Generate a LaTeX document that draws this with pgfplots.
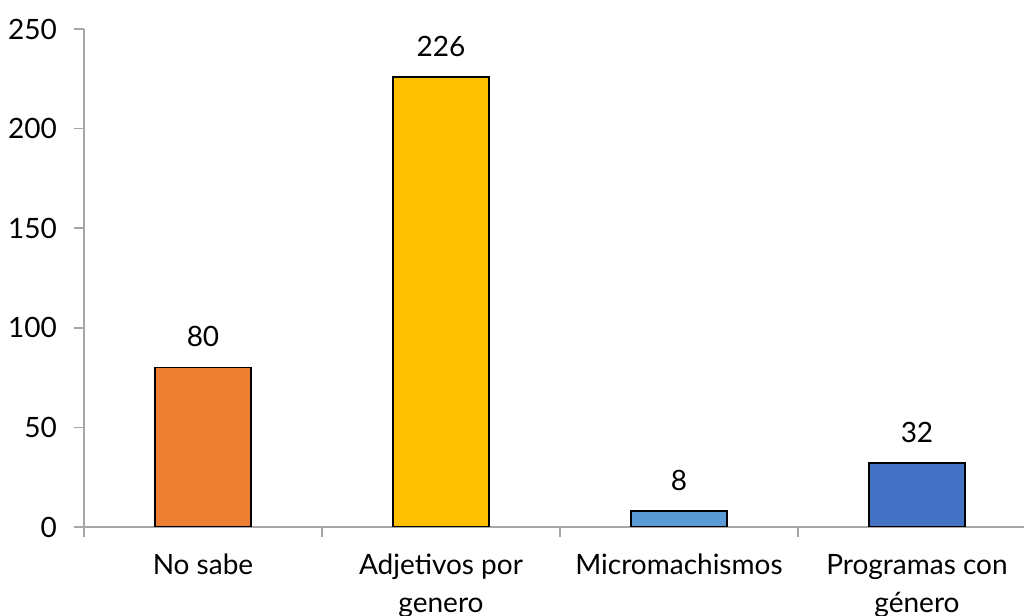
\documentclass[border=0pt]{standalone}
\usepackage{fontspec}
\setmainfont{Lato}
\usepackage{pgfplots}
\pgfplotsset{compat=1.18}
\definecolor{cOrange}{HTML}{ED7D31}
\definecolor{cGold}{HTML}{FFC000}
\definecolor{cLight}{HTML}{5B9BD5}
\definecolor{cBlue}{HTML}{4472C4}
\definecolor{axgray}{HTML}{A6A6A6}

\begin{document}
\begin{tikzpicture}
    \begin{axis}[
        scale only axis,
        width=476pt,
        height=249pt,
        ybar,
        bar width=48pt,
        xmin=-0.5, xmax=3.5,
        ymin=0, ymax=250,
        ytick={0,50,...,250},
        xtick={-0.5,0.5,1.5,2.5,3.5},
        x tick label as interval,
        xticklabels={No sabe, {Adjetivos por\\genero}, Micromachismos, {Programas con\\género}},
        xticklabel style={align=center, font=\fontsize{14}{19}\selectfont, yshift=-5pt},
        yticklabel style={font=\fontsize{14}{16}\selectfont, xshift=-5pt},
        axis x line*=bottom,
        axis y line*=left,
        axis line style={axgray, line width=0.8pt},
        tick style={axgray, line width=0.8pt},
        tick align=outside,
        major tick length=5pt,
        /pgf/number format/assume math mode=true,
        nodes near coords,
        every node near coord/.append style={font=\fontsize{14}{16}\selectfont, yshift=6.5pt},
    ]
    \addplot[fill=cOrange, draw=black, line width=0.8pt, bar shift=0pt] coordinates {(0,80)};
    \addplot[fill=cGold, draw=black, line width=0.8pt, bar shift=0pt] coordinates {(1,226)};
    \addplot[fill=cLight, draw=black, line width=0.8pt, bar shift=0pt] coordinates {(2,8)};
    \addplot[fill=cBlue, draw=black, line width=0.8pt, bar shift=0pt] coordinates {(3,32)};
    \end{axis}
    \pgfresetboundingbox
    \path[use as bounding box] (-42pt,-44.5pt) rectangle (470pt,263.5pt);
\end{tikzpicture}
\end{document}
